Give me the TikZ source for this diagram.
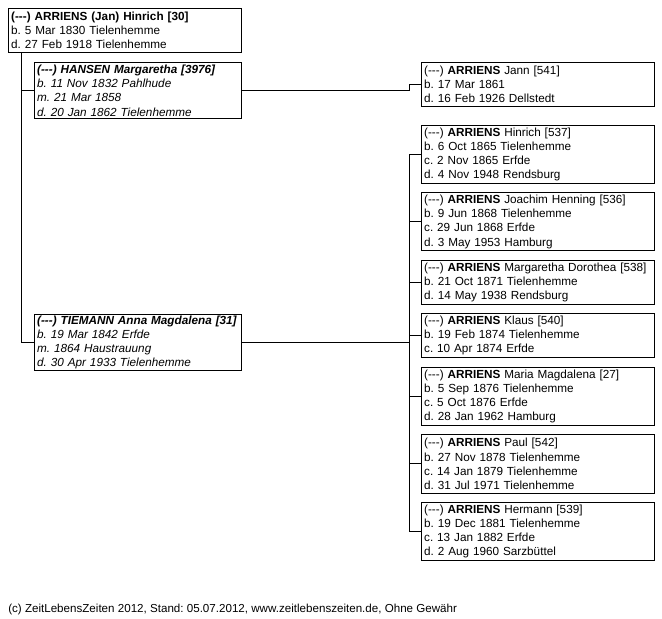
\documentclass[tikz,border=0pt]{standalone}
\usepackage{fontspec}
\setmainfont{Liberation Sans}
\usepackage{tikz}
\usetikzlibrary{positioning}
\frenchspacing

\begin{document}
\begin{tikzpicture}[
x=0.75pt,y=-0.75pt,
node distance=6.4pt,
font=\fontsize{8.8}{10.6}\selectfont,
person/.style={draw,line width=.75pt,anchor=north west,inner xsep=2pt,inner ysep=1pt,text width=170.75pt,align=left,minimum height=43.6pt},
short/.style={minimum height=32.9pt},
spouse/.style={person,text width=151.25pt,minimum height=42.2pt,font=\fontsize{8.8}{10.6}\selectfont\itshape},
link/.style={line width=.75pt}
]
\useasboundingbox (0,0) rectangle (662,619);
% left column: the father and his two wives
\node[person,short] (hinrich) at (8,8) {\textbf{(-{}-{}-) ARRIENS (Jan) Hinrich [30]}\\b. 5 Mar 1830 Tielenhemme\\d. 27 Feb 1918 Tielenhemme};
\node[spouse] (hansen) at (34,62) {\textbf{(-{}-{}-) HANSEN Margaretha [3976]}\\b. 11 Nov 1832 Pahlhude\\m. 21 Mar 1858\\d. 20 Jan 1862 Tielenhemme};
\node[spouse] (tiemann) at (34,314) {\textbf{(-{}-{}-) TIEMANN Anna Magdalena [31]}\\b. 19 Mar 1842 Erfde\\m. 1864 Haustrauung\\d. 30 Apr 1933 Tielenhemme};
% children
\node[person,short] (jann) at (421,62) {(-{}-{}-) \textbf{ARRIENS} Jann [541]\\b. 17 Mar 1861\\d. 16 Feb 1926 Dellstedt};
\node[person,below=13.3pt of jann] (c537) {(-{}-{}-) \textbf{ARRIENS} Hinrich [537]\\b. 6 Oct 1865 Tielenhemme\\c. 2 Nov 1865 Erfde\\d. 4 Nov 1948 Rendsburg};
\node[person,below=of c537] (c536) {(-{}-{}-) \textbf{ARRIENS} Joachim Henning [536]\\b. 9 Jun 1868 Tielenhemme\\c. 29 Jun 1868 Erfde\\d. 3 May 1953 Hamburg};
\node[person,short,below=of c536] (c538) {(-{}-{}-) \textbf{ARRIENS} Margaretha Dorothea [538]\\b. 21 Oct 1871 Tielenhemme\\d. 14 May 1938 Rendsburg};
\node[person,short,below=of c538] (c540) {(-{}-{}-) \textbf{ARRIENS} Klaus [540]\\b. 19 Feb 1874 Tielenhemme\\c. 10 Apr 1874 Erfde};
\node[person,below=of c540] (c27) {(-{}-{}-) \textbf{ARRIENS} Maria Magdalena [27]\\b. 5 Sep 1876 Tielenhemme\\c. 5 Oct 1876 Erfde\\d. 28 Jan 1962 Hamburg};
\node[person,below=of c27] (c542) {(-{}-{}-) \textbf{ARRIENS} Paul [542]\\b. 27 Nov 1878 Tielenhemme\\c. 14 Jan 1879 Tielenhemme\\d. 31 Jul 1971 Tielenhemme};
\node[person,below=of c542] (c539) {(-{}-{}-) \textbf{ARRIENS} Hermann [539]\\b. 19 Dec 1881 Tielenhemme\\c. 13 Jan 1882 Erfde\\d. 2 Aug 1960 Sarzb\"uttel};
\node[anchor=west,inner sep=0pt,font=\fontsize{8.7}{10.6}\selectfont] (footer) at (8,609) {(c) ZeitLebensZeiten 2012, Stand: 05.07.2012, www.zeitlebenszeiten.de, Ohne Gew\"ahr};
% connectors
\coordinate (spx) at (21,0);
\coordinate (famx) at (409,0);
\draw[link] (hinrich.south -| spx) |- (hansen.west);
\draw[link] (hinrich.south -| spx) |- (tiemann.west);
\draw[link] (hansen.east) -- (hansen.east -| famx) |- (jann.west);
\draw[link] (tiemann.east) -- (tiemann.east -| famx);
\draw[link] (c537.west -| famx) -- (c539.west -| famx);
\foreach \c in {c537,c536,c538,c540,c27,c542,c539}
  \draw[link] (\c.west -| famx) -- (\c.west);
\end{tikzpicture}
\end{document}
